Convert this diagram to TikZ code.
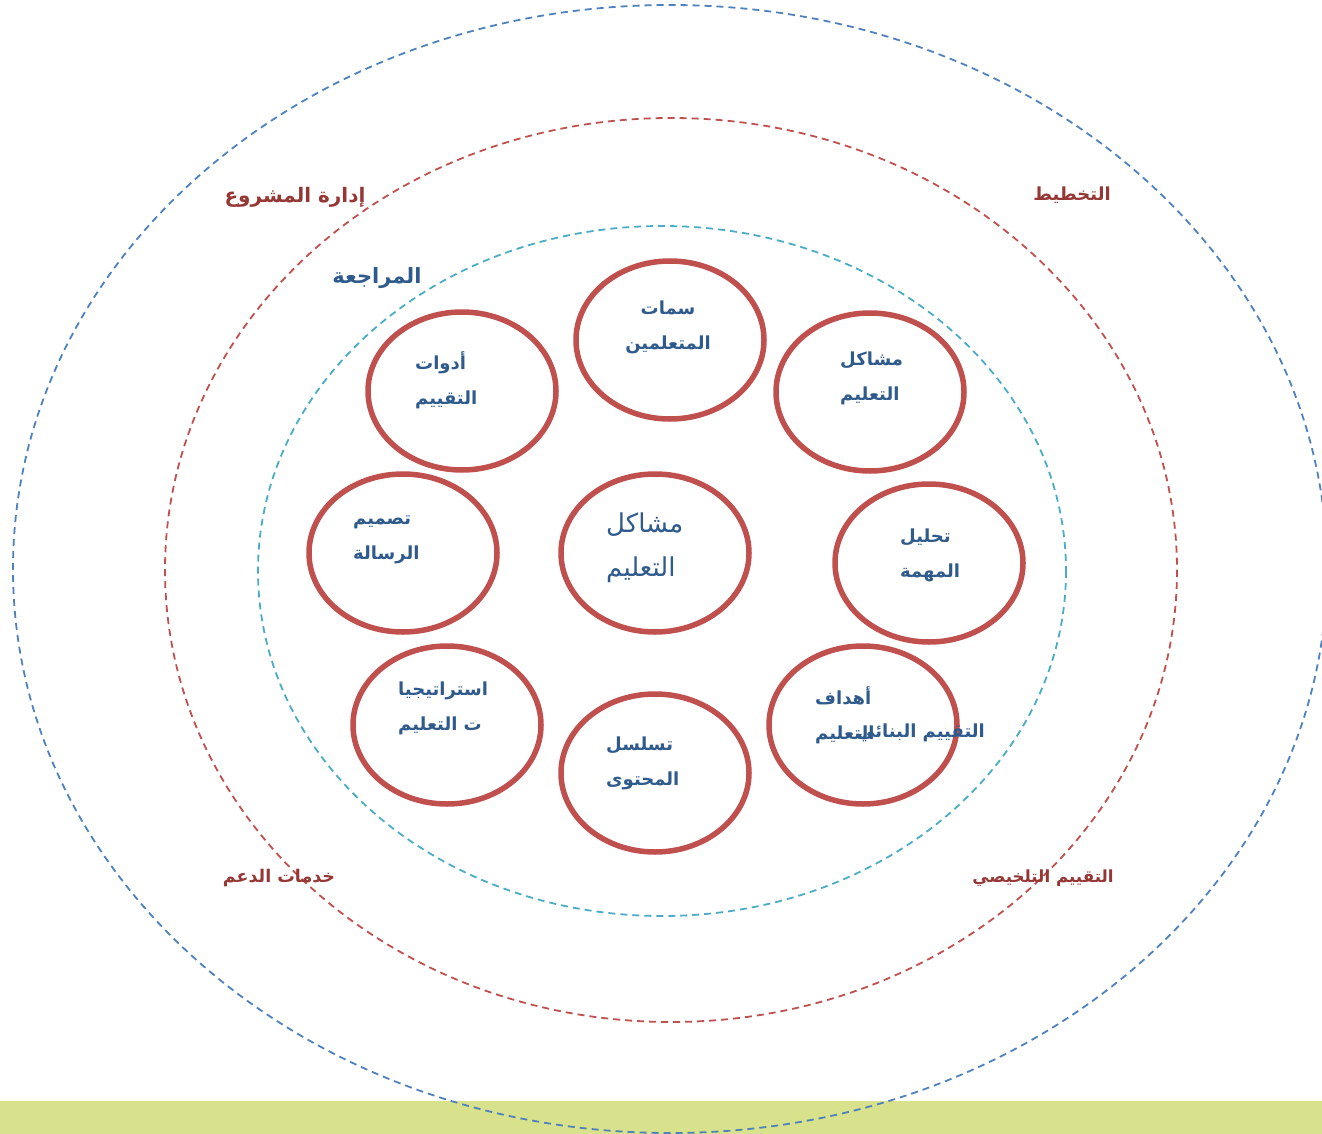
\documentclass[tikz,border=0pt]{standalone}
\usepackage{fontspec}
\usetikzlibrary{shapes.geometric}
\newfontfamily\arabicfont[Script=Arabic]{DejaVu Sans}
\TeXXeTstate=1
\definecolor{ringred}{HTML}{C0504D}
\definecolor{ringblue}{HTML}{4F81BD}
\definecolor{ringcyan}{HTML}{4BACC6}
\definecolor{txtblue}{HTML}{2F5A8C}
\definecolor{lblred}{HTML}{953734}
\definecolor{barg}{HTML}{D8E28C}
\begin{document}
\begin{tikzpicture}[x=1pt,y=-1pt,
  ring/.style={draw, dash pattern=on 7pt off 5pt, line width=1.8pt},
  bubble/.style={ellipse, draw=ringred, line width=5.5pt, minimum width=188pt, minimum height=158pt, inner sep=0pt},
  btext/.style={font=\arabicfont\bfseries\fontsize{18}{35}\selectfont, text=txtblue, align=left, inner sep=0pt},
  lbl/.style={font=\arabicfont\bfseries\fontsize{18}{20}\selectfont, text=lblred, inner sep=0pt}]
\useasboundingbox (0,0) rectangle (1322,1134);
\clip (0,0) rectangle (1322,1134);
\fill[barg] (0,1101) rectangle (1322,1134);
\draw[ring, ringblue] (670,569) ellipse [x radius=657, y radius=564];
\draw[ring, ringred] (671,570) ellipse [x radius=506, y radius=452];
\draw[ring, ringcyan] (662,571) ellipse [x radius=404, y radius=345];
% bubbles
\node[bubble] (b1) at (670,340) {};
\node[bubble] (b2) at (870,392) {};
\node[bubble] (b3) at (929,563) {};
\node[bubble] (b4) at (863,725) {};
\node[bubble] (b5) at (655,773) {};
\node[bubble] (b6) at (447,725) {};
\node[bubble] (b7) at (403,553) {};
\node[bubble] (b8) at (462,391) {};
\node[bubble] (b9) at (655,553) {};
% texts
\node[btext, align=center] (t1) at (668,327) {\beginR سمات\endR\\\beginR المتعلمين\endR};
\node[btext, anchor=west] (t2) at (840,378) {\beginR مشاكل\endR\\\beginR التعليم\endR};
\node[btext, anchor=west] (t3) at (900,555) {\beginR تحليل\endR\\\beginR المهمة\endR};
\node[btext, anchor=west] (t4a) at (815,715) {\beginR أهداف\endR\\\beginR التعليم\endR};
\node[btext, anchor=east] (t4b) at (985,733) {\beginR التقييم البنائي\endR};
\node[btext, anchor=west] (t5) at (606,763) {\beginR تسلسل\endR\\\beginR المحتوى\endR};
\node[btext, anchor=west] (t6) at (398,708) {\beginR استراتيجيا\endR\\\beginR ت التعليم\endR};
\node[btext, anchor=west] (t7) at (353,540) {\beginR تصميم\endR\\\beginR الرسالة\endR};
\node[btext, anchor=west] (t8) at (415,380) {\beginR أدوات\endR\\\beginR التقييم\endR};
\node[font=\arabicfont\fontsize{26}{44}\selectfont, text=txtblue, align=left, anchor=west, inner sep=0pt] (t9) at (606,548) {\beginR مشاكل\endR\\\beginR التعليم\endR};
% labels
\node[lbl, font=\arabicfont\bfseries\fontsize{20}{22}\selectfont] (l1) at (295,197) {\beginR إدارة المشروع\endR};
\node[lbl] (l2) at (1072,195) {\beginR التخطيط\endR};
\node[lbl, text=txtblue, font=\arabicfont\bfseries\fontsize{21}{23}\selectfont] (l3) at (377,278) {\beginR المراجعة\endR};
\node[lbl, font=\arabicfont\bfseries\fontsize{17.5}{20}\selectfont] (l4) at (279,878) {\beginR خدمات الدعم\endR};
\node[lbl, font=\arabicfont\bfseries\fontsize{16.7}{20}\selectfont] (l5) at (1043,878) {\beginR التقييم التلخيصي\endR};
\end{tikzpicture}
\end{document}
